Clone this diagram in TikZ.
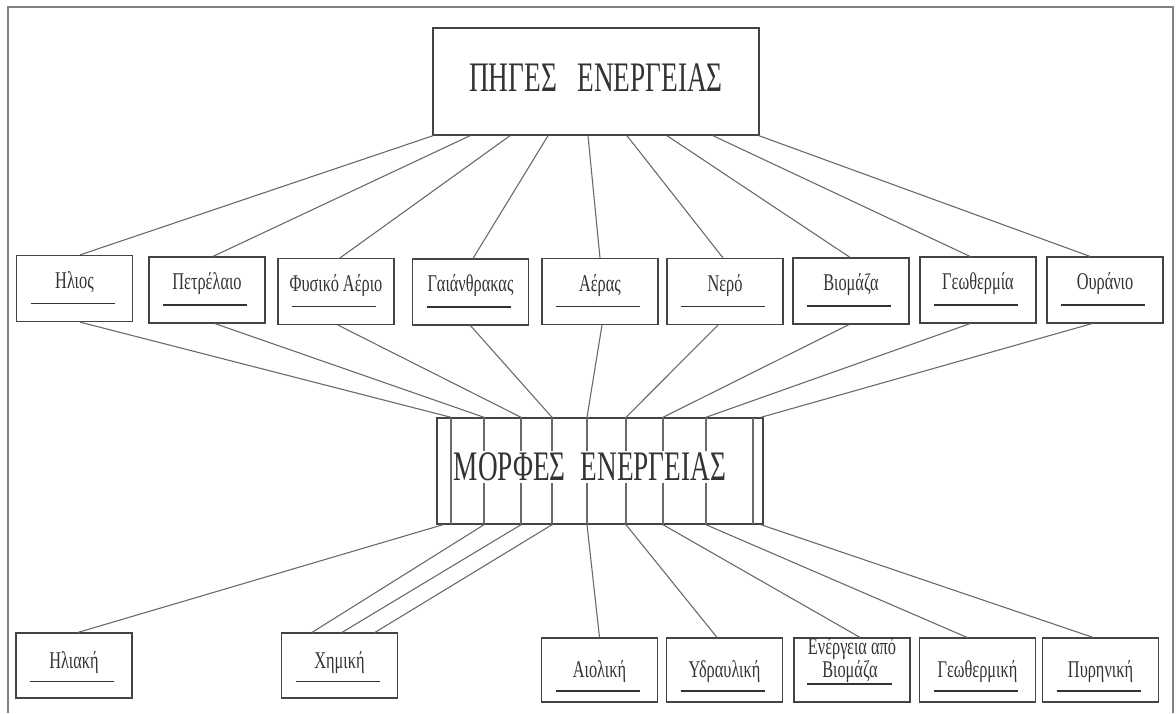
\documentclass[tikz,border=0pt]{standalone}
\usepackage{fontspec}
\setmainfont{Liberation Serif}
\usetikzlibrary{calc}
\definecolor{ink}{HTML}{333333}
\definecolor{edge}{HTML}{444444}
\definecolor{wire}{HTML}{6A6A6A}
\definecolor{frame}{HTML}{808080}
\newcommand\narrowtxt[2][0.68]{\scalebox{#1}[1]{#2}}
\tikzset{
  box/.style={draw=edge, line width=1.2pt, minimum width=116pt, minimum height=66pt, inner sep=0pt},
  bigbox/.style={draw=edge, line width=1.4pt, minimum width=326pt, minimum height=106pt, inner sep=0pt},
  wire/.style={draw=wire, line width=1.1pt},
  uline/.style={draw=ink, line width=1.1pt},
  lbl/.style={text=ink, font=\fontsize{24}{26}\selectfont, inner sep=0pt},
  title/.style={text=ink, font=\fontsize{42}{44}\selectfont, inner sep=0pt},
}
\begin{document}
\begin{tikzpicture}[x=1pt,y=-1pt]
\useasboundingbox (0,0) rectangle (1176,713);
\draw[draw=frame, line width=1.4pt] (8,713) -- (8,7) -- (1173,7) -- (1173,713);

% top box
\node[bigbox, minimum height=107pt] (top) at (596,81.5) {};
\node[title] (toptxt) at (596,78) {\narrowtxt[0.65]{ΠΗΓΕΣ\hspace{0.5em} ΕΝΕΡΓΕΙΑΣ}};

% source boxes
\node[box] (s1) at (74.5,288.5) {};
\node[box] (s2) at (207,290) {};
\node[box] (s3) at (336,291.5) {};
\node[box] (s4) at (470.5,292) {};
\node[box] (s5) at (600,291.5) {};
\node[box] (s6) at (725,291.5) {};
\node[box] (s7) at (851,291) {};
\node[box] (s8) at (978,290) {};
\node[box] (s9) at (1105,290) {};
\foreach \n/\t in {s1/Ηλιος, s2/Πετρέλαιο, s3/Φυσικό Αέριο, s4/Γαιάνθρακας, s5/Αέρας, s6/Νερό, s7/Βιομάζα, s8/Γεωθερμία, s9/Ουράνιο}{
  \node[lbl] (\n t) at ($(\n.center)+(0,-6)$) {\narrowtxt{\t}};
  \draw[uline] ($(\n.center)+(-44,15)$) -- ++(84,0);
}

% middle box
\node[bigbox] (mid) at (600,471) {};
\foreach \x in {451,484,521,552,587,626,663,706,753}{
  \draw[wire] (\x,418) -- (\x,524);
}
\node[title, fill=white, inner sep=2pt] (midtxt) at (590,467) {\narrowtxt[0.65]{ΜΟΡΦΕΣ\hspace{0.3em} ΕΝΕΡΓΕΙΑΣ}};

% bottom boxes
\node[box, minimum height=65pt] (b1) at (74,665.5) {};
\node[box, minimum height=65pt] (b2) at (339.5,665.5) {};
\node[box, minimum height=64pt] (b3) at (599.5,670) {};
\node[box, minimum height=64pt] (b4) at (724.5,670) {};
\node[box, minimum height=64pt] (b5) at (852,670) {};
\node[box, minimum height=64pt] (b6) at (977.5,670) {};
\node[box, minimum height=64pt] (b7) at (1100.5,670) {};
\foreach \n/\t/\dy in {b1/Ηλιακή/-3, b2/Χημική/-3, b3/Αιολική/2, b4/Υδραυλική/2, b6/Γεωθερμική/2, b7/Πυρηνική/2}{
  \node[lbl] (\n t) at ($(\n.center)+(0,\dy)$) {\narrowtxt{\t}};
  \draw[uline] ($(\n.center)+(-44,\dy+19)$) -- ++(84,0);
}
\node[lbl] (b5t) at ($(b5.center)+(0,-21)$) {\narrowtxt{Ενέργεια από}};
\node[lbl] (b5u) at ($(b5.center)+(-2,2)$) {\narrowtxt{Βιομάζα}};
\draw[uline] ($(b5.center)+(-45,14)$) -- ++(85,0);

% top -> sources
\draw[wire] ($(top.south)+(-163,0)$) -- ($(s1.north)+(5.5,0)$);
\draw[wire] ($(top.south)+(-126,0)$) -- ($(s2.north)+(6,0)$);
\draw[wire] ($(top.south)+(-86,0)$) -- ($(s3.north)+(4,0)$);
\draw[wire] ($(top.south)+(-48,0)$) -- ($(s4.north)+(2.5,0)$);
\draw[wire] ($(top.south)+(-8,0)$) -- ($(s5.north)+(0,0)$);
\draw[wire] ($(top.south)+(31,0)$) -- ($(s6.north)+(-2,0)$);
\draw[wire] ($(top.south)+(71,0)$) -- ($(s7.north)+(-1,0)$);
\draw[wire] ($(top.south)+(117,0)$) -- ($(s8.north)+(-8,0)$);
\draw[wire] ($(top.south)+(163,0)$) -- ($(s9.north)+(-15,0)$);

% sources -> middle
\draw[wire] ($(s1.south)+(5.5,0)$) -- ($(mid.north)+(-149,0)$);
\draw[wire] ($(s2.south)+(8,0)$) -- ($(mid.north)+(-116,0)$);
\draw[wire] ($(s3.south)+(2,0)$) -- ($(mid.north)+(-79,0)$);
\draw[wire] ($(s4.south)+(0,0)$) -- ($(mid.north)+(-48,0)$);
\draw[wire] ($(s5.south)+(2,0)$) -- ($(mid.north)+(-13,0)$);
\draw[wire] ($(s6.south)+(-7,0)$) -- ($(mid.north)+(26,0)$);
\draw[wire] ($(s7.south)+(-2,0)$) -- ($(mid.north)+(63,0)$);
\draw[wire] ($(s8.south)+(-8,0)$) -- ($(mid.north)+(106,0)$);
\draw[wire] ($(s9.south)+(-13,0)$) -- ($(mid.north)+(161,0)$);

% middle -> bottom
\draw[wire] ($(mid.south)+(-157,0)$) -- ($(b1.north)+(4,0)$);
\draw[wire] ($(mid.south)+(-116,0)$) -- ($(b2.north)+(-27.5,0)$);
\draw[wire] ($(mid.south)+(-79,0)$) -- ($(b2.north)+(2.5,0)$);
\draw[wire] ($(mid.south)+(-48,0)$) -- ($(b2.north)+(35.5,0)$);
\draw[wire] ($(mid.south)+(-13,0)$) -- ($(b3.north)+(0,0)$);
\draw[wire] ($(mid.south)+(26,0)$) -- ($(b4.north)+(-7.5,0)$);
\draw[wire] ($(mid.south)+(63,0)$) -- ($(b5.north)+(8,0)$);
\draw[wire] ($(mid.south)+(106,0)$) -- ($(b6.north)+(-10.5,0)$);
\draw[wire] ($(mid.south)+(161,0)$) -- ($(b7.north)+(-7.5,0)$);
\end{tikzpicture}
\end{document}
